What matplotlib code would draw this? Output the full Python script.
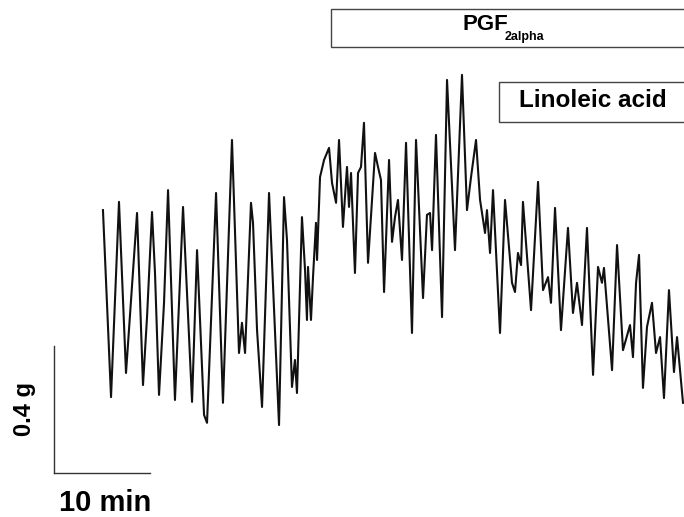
import numpy as np
import matplotlib
matplotlib.use('Agg')
import matplotlib.pyplot as plt
from matplotlib.patches import Rectangle

plt.rcParams['font.family'] = ['Liberation Sans', 'DejaVu Sans']

# isometric tension trace, time in min, tension in g
time_min = [5.10, 5.94, 6.77, 7.50, 8.02, 8.65, 9.27, 9.69, 10.21, 10.52,
	10.94, 11.46, 11.88, 12.60, 13.44, 14.38, 14.90, 15.63, 15.94, 16.88,
	17.60, 18.54, 19.27, 19.58, 19.90, 20.52, 20.73, 21.15, 21.67, 22.40,
	23.44, 23.96, 24.27, 24.79, 25.10, 25.31, 25.83, 26.15, 26.35, 26.46,
	26.77, 26.98, 27.29, 27.40, 27.71, 28.13, 28.65, 28.96, 29.38, 29.69,
	30.10, 30.52, 30.73, 30.94, 31.35, 31.67, 31.98, 32.29, 32.71, 33.44,
	33.75, 34.06, 34.38, 34.90, 35.21, 35.52, 35.83, 36.25, 36.67, 37.29,
	37.71, 38.44, 38.85, 39.17, 39.38, 39.79, 40.42, 40.94, 41.77, 42.50,
	43.02, 43.44, 43.96, 44.38, 44.90, 45.10, 45.42, 45.73, 46.46, 46.98,
	47.71, 48.02, 48.33, 48.65, 48.85, 49.69, 50.42, 50.94, 51.46, 51.77,
	52.19, 52.81, 53.54, 54.06, 54.48, 55.00, 55.52, 56.15, 56.67, 57.08,
	57.29, 58.13, 58.65, 59.27, 60.00, 60.31, 60.63, 60.94, 61.35, 61.77,
	62.29, 62.71, 63.13, 63.54, 64.06, 64.58, 64.90, 65.52]
tension_g = [0.828, 0.239, 0.854, 0.315, 0.545, 0.819, 0.277, 0.491, 0.822, 0.630,
	0.246, 0.536, 0.891, 0.230, 0.838, 0.224, 0.702, 0.183, 0.158, 0.882,
	0.221, 1.049, 0.378, 0.473, 0.378, 0.851, 0.788, 0.450, 0.208, 0.882,
	0.151, 0.869, 0.734, 0.271, 0.356, 0.252, 0.806, 0.639, 0.482, 0.649,
	0.482, 0.617, 0.788, 0.671, 0.932, 0.986, 1.024, 0.914, 0.851, 1.049,
	0.775, 0.964, 0.838, 0.945, 0.630, 0.945, 0.964, 1.103, 0.662, 1.008,
	0.964, 0.923, 0.570, 0.986, 0.728, 0.806, 0.860, 0.671, 1.040, 0.441,
	1.049, 0.551, 0.813, 0.819, 0.702, 1.065, 0.491, 1.238, 0.702, 1.254,
	0.828, 0.932, 1.049, 0.860, 0.756, 0.828, 0.693, 0.891, 0.441, 0.860,
	0.599, 0.570, 0.693, 0.655, 0.854, 0.513, 0.917, 0.576, 0.617, 0.536,
	0.835, 0.450, 0.772, 0.504, 0.599, 0.466, 0.772, 0.309, 0.649, 0.599,
	0.646, 0.324, 0.718, 0.387, 0.466, 0.365, 0.599, 0.687, 0.268, 0.460,
	0.536, 0.378, 0.428, 0.236, 0.576, 0.318, 0.428, 0.221]

# drug additions (start time, min)
pgf_start = 28.85
linoleic_start = 46.35

# calibration bars
bar_g = 0.4
bar_min = 10

fig = plt.figure(figsize=(6.84, 5.17), dpi=100)
ax = fig.add_axes([0, 0, 1, 1])
ax.set_xlim(-5.625, 65.625)
ax.set_ylim(-0.1386, 1.4898)
ax.axis('off')

ax.plot(time_min, tension_g, color='#111111', lw=1.5, solid_joinstyle='round')

# scale bars
ax.plot([0, 0], [0, bar_g], color='#333333', lw=1.0)
ax.plot([0, bar_min], [0, 0], color='#333333', lw=1.0)
ax.text(-3.1, bar_g / 2, '%.1f g' % bar_g, rotation=90, ha='center', va='center',
	fontsize=17, fontweight='bold')
ax.text(bar_min / 2 + 0.3, -0.121, '%d min' % bar_min, ha='center', va='baseline',
	fontsize=21, fontweight='bold')

# treatment bars
ax.add_patch(Rectangle((pgf_start, 1.3417), 70 - pgf_start, 0.1197,
	facecolor='white', edgecolor='#444444', lw=1.0, clip_on=False))
ax.text(42.5, 1.3953, 'PGF', ha='left', va='baseline', fontsize=16, fontweight='bold')
ax.text(46.98, 1.3638, '2alpha', ha='left', va='baseline', fontsize=9, fontweight='bold')

ax.add_patch(Rectangle((linoleic_start, 1.1055), 70 - linoleic_start, 0.126,
	facecolor='white', edgecolor='#444444', lw=1.0, clip_on=False))
ax.text(48.44, 1.1528, 'Linoleic acid', ha='left', va='baseline', fontsize=17.5,
	fontweight='bold')

fig.savefig('out.png', dpi=100)
